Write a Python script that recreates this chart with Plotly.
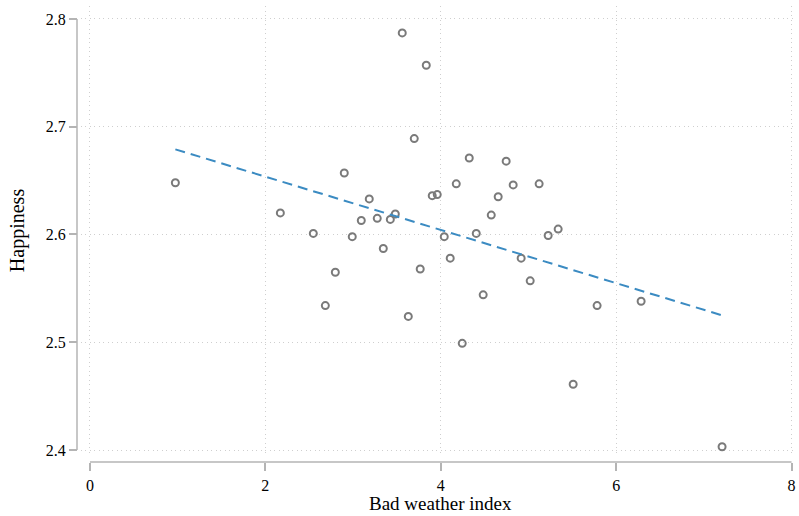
import plotly.graph_objects as go

# Data
weather = [0.974, 2.171, 2.547, 2.684, 2.798, 2.900, 2.991, 3.094, 3.185, 3.276,
           3.345, 3.425, 3.482, 3.561, 3.630, 3.698, 3.766, 3.835, 3.903, 3.960,
           4.040, 4.108, 4.177, 4.245, 4.325, 4.405, 4.484, 4.576, 4.655, 4.746,
           4.826, 4.917, 5.020, 5.122, 5.225, 5.339, 5.510, 5.783, 6.285, 7.208]
happiness = [2.648, 2.620, 2.601, 2.534, 2.565, 2.657, 2.598, 2.613, 2.633, 2.615,
             2.587, 2.614, 2.619, 2.787, 2.524, 2.689, 2.568, 2.757, 2.636, 2.637,
             2.598, 2.578, 2.647, 2.499, 2.671, 2.601, 2.544, 2.618, 2.635, 2.668,
             2.646, 2.578, 2.557, 2.647, 2.599, 2.605, 2.461, 2.534, 2.538, 2.403]
fit_x = [0.974, 7.208]
fit_y = [2.679, 2.525]

x_ticks = [0, 2, 4, 6, 8]
y_ticks = [2.4, 2.5, 2.6, 2.7, 2.8]

font_family = "Liberation Serif"
axis_col = "#b4b4b4"
grid_col = "#cfcfcf"

fig = go.Figure()
fig.add_trace(go.Scatter(
    x=weather, y=happiness, mode="markers",
    marker=dict(symbol="circle-open", size=7, color="#7a7a7a", line=dict(width=2, color="#7a7a7a")),
    showlegend=False, hoverinfo="x+y"))
fig.add_trace(go.Scatter(
    x=fit_x, y=fit_y, mode="lines",
    line=dict(color="#3b8bc2", width=2, dash="10px,6px"),
    showlegend=False))

fig.update_layout(
    width=799, height=516,
    margin=dict(l=77, r=3, t=6, b=54),
    paper_bgcolor="white", plot_bgcolor="white",
    font=dict(family=font_family, color="black", size=16),
    xaxis=dict(
        range=[-0.1026, 8.051], domain=[0.0055, 1], anchor="free", position=0,
        automargin=False,
        tickvals=x_ticks, ticktext=[str(v) for v in x_ticks],
        ticks="outside", ticklen=8, tickwidth=1.5, tickcolor=axis_col,
        ticklabelstandoff=1,
        showline=False, zeroline=False,
        showgrid=True, gridcolor=grid_col, griddash="1px,3.5px", gridwidth=1,
        tickfont=dict(size=16, family=font_family),
    ),
    yaxis=dict(
        range=[2.3954, 2.812], domain=[0.0154, 1], anchor="free", position=0,
        automargin=False,
        tickvals=y_ticks, ticktext=[f"{v:.1f}" for v in y_ticks],
        ticks="outside", ticklen=8, tickwidth=1.5, tickcolor=axis_col,
        showline=False, zeroline=False,
        showgrid=True, gridcolor=grid_col, griddash="1px,3.5px", gridwidth=1,
        title=dict(text="Happiness", font=dict(size=20, family=font_family), standoff=14),
        tickfont=dict(size=16, family=font_family),
    ),
    annotations=[
        dict(text="Bad weather index", xref="x", yref="paper", x=4, y=-0.1173,
             xanchor="center", yanchor="bottom", showarrow=False, borderpad=0,
             font=dict(size=19, family=font_family, color="black")),
    ],
    shapes=[
        dict(type="line", xref="x", yref="paper", x0=x_ticks[0], x1=x_ticks[-1], y0=0, y1=0,
             line=dict(color=axis_col, width=1.5), layer="above"),
        dict(type="line", xref="paper", yref="y", x0=0, x1=0, y0=y_ticks[0], y1=y_ticks[-1],
             line=dict(color=axis_col, width=1.5), layer="above"),
    ],
)

fig.write_html("out.html")
